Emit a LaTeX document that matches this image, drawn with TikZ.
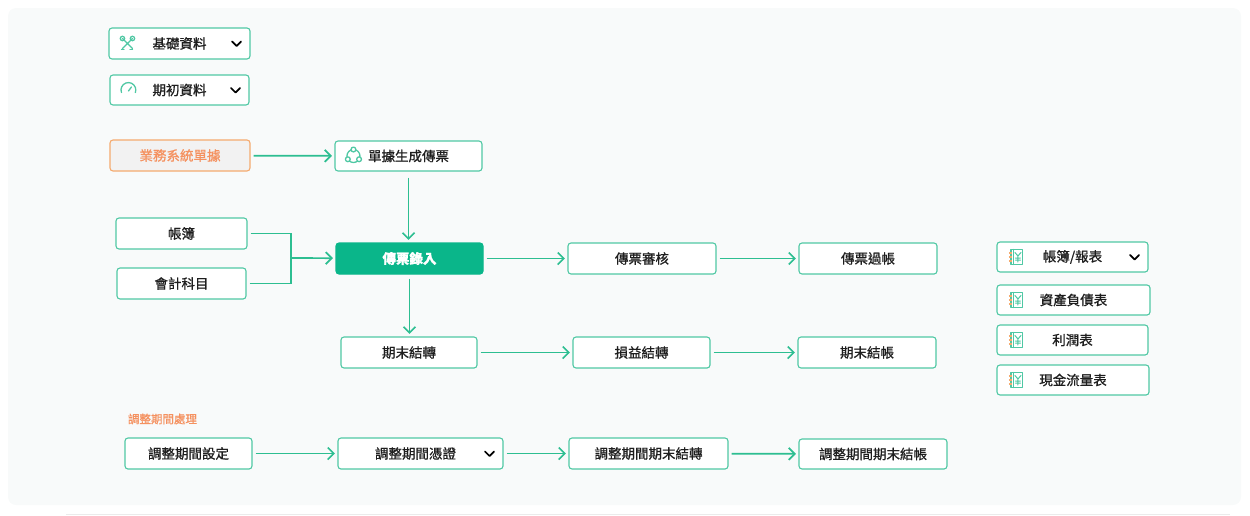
\documentclass[tikz,border=0pt]{standalone}
\usepackage{fontspec}
\setmainfont{Noto Sans CJK TC}[FakeBold=0.9]
\usetikzlibrary{arrows.meta}
\definecolor{panel}{RGB}{248,250,250}
\definecolor{boxgreen}{RGB}{80,200,164}
\definecolor{arrowgreen}{RGB}{45,190,145}
\definecolor{fillgreen}{RGB}{10,182,138}
\definecolor{boxorange}{RGB}{245,170,110}
\definecolor{textorange}{RGB}{245,145,95}
\definecolor{textdark}{RGB}{30,30,30}
\tikzset{
    every node/.style={align=center,font=\fontsize{13.5}{16}\selectfont,text=textdark,},
    stepbox/.style={draw=boxgreen,fill=white,rectangle,rounded corners=3pt,line width=1.1pt,inner sep=0pt,minimum height=31pt,},
    mainbox/.style={stepbox,draw=fillgreen,fill=fillgreen,text=white,font=\fontsize{13.5}{16}\selectfont\bfseries,},
    srcbox/.style={stepbox,draw=boxorange,fill=black!5,text=textorange,},
    sublabel/.style={font=\fontsize{11.5}{14}\selectfont,text=textorange,},
    flow/.style={draw=arrowgreen,line width=1.7pt,-{Straight Barb[length=6pt,width=12pt]},shorten >=2.5pt,shorten <=3pt,},
    link/.style={draw=arrowgreen,line width=1.7pt,shorten <=3pt,},
    icon/.style={draw=boxgreen,line width=1.3pt,line cap=round,line join=round,},
    chev/.style={draw=black,line width=1.7pt,line cap=round,line join=round,},
}
\newcommand{\chevron}[1]{\draw[chev] ([xshift=-14pt]#1.east) ++(-4.5,-2) -- ++(4.5,4.5) -- ++(4.5,-4.5);}
\newcommand{\bookicon}[1]{%
    \begin{scope}[shift={([xshift=20pt]#1.west)}]
        \draw[icon] (-5.5,-7.5) rectangle (6,7.5);
        \draw[icon] (-3,-7.5) -- (-3,7.5);
        \foreach \yy in {-4,0,4} \draw[draw=boxorange,line width=1.2pt] (-7.5,\yy) -- (-4.5,\yy);
        \draw[icon,line width=1pt] (-1.5,-4.5) -- (1.5,-1) -- (4.5,-4.5) (1.5,-1) -- (1.5,5) (-1,1) -- (4,1) (-1,3.2) -- (4,3.2);
    \end{scope}}

\begin{document}
\begin{tikzpicture}[x=1pt,y=-1pt]
    \useasboundingbox (0,0) rectangle (1250,515);
    \fill[panel,rounded corners=8pt] (8,8) rectangle (1241,505);
    \draw[black!8,line width=1pt] (66,514) -- (1230,514);

    % top menus
    \node[stepbox,minimum width=141pt] (jichu) at (179.5,43.5) {基礎資料};
    \node[stepbox,minimum width=139pt,minimum height=30pt] (qichu) at (179.5,90) {期初資料};
    \chevron{jichu}
    \chevron{qichu}
    \draw[icon] ([xshift=19pt]jichu.west) ++(-5,-5) -- ++(10,10) ++(0,-10) -- ++(-10,10);
    \draw[icon] ([xshift=19pt]jichu.west) ++(-5,-5) circle (2.2) ++(10,0) circle (2.2);
    \draw[icon] ([xshift=19pt]jichu.west) ++(-6,6) -- ++(2.5,0) ++(8.5,0) -- ++(-2.5,0);
    \draw[icon] ([xshift=19pt]qichu.west) ++(-7,2.5) arc (160:380:7.4);
    \draw[icon] ([xshift=19pt]qichu.west) ++(0,1) -- ++(3,-4);

    % voucher flow
    \node[srcbox,minimum width=140pt] (yewu) at (180,155.5) {業務系統單據};
    \node[stepbox,minimum width=147pt,minimum height=30pt] (shengcheng) at (408.5,156) {單據生成傳票};
    \draw[icon] ([xshift=19pt]shengcheng.west) circle (6.5);
    \foreach \ang in {90,210,330}
        \filldraw[icon,fill=white] ([xshift=19pt]shengcheng.west) ++(\ang+180:6.5) circle (2.4);

    \node[stepbox,minimum width=131pt] (zhangbu) at (181.5,233.5) {帳簿};
    \node[stepbox,minimum width=129pt] (kemu) at (181.5,283.5) {會計科目};
    \coordinate (merge) at (291,258);

    \node[mainbox,minimum width=147pt] (luru) at (409.5,258.5) {傳票錄入};
    \node[stepbox,minimum width=148pt] (shenhe) at (642,258.5) {傳票審核};
    \node[stepbox,minimum width=138pt] (guozhang) at (868,258.5) {傳票過帳};

    \node[stepbox,minimum width=136pt] (jiezhuan) at (409,352.5) {期末結轉};
    \node[stepbox,minimum width=137pt] (sunyi) at (641.5,352.5) {損益結轉};
    \node[stepbox,minimum width=138pt] (jiezhang) at (867,352.5) {期末結帳};

    \draw[flow] (yewu) to (shengcheng);
    \draw[flow,shorten <=6pt] (shengcheng.south) to (shengcheng.south |- luru.north);
    \draw[link] (zhangbu.east) -| (merge);
    \draw[link] (kemu.east) -| (merge);
    \draw[flow,shorten <=0pt] (merge) to (luru);
    \draw[flow] (luru) to (shenhe);
    \draw[flow] (shenhe) to (guozhang);
    \draw[flow,shorten <=4pt] (luru.south) to (luru.south |- jiezhuan.north);
    \draw[flow] (jiezhuan) to (sunyi);
    \draw[flow] (sunyi) to (jiezhang);

    % reports
    \node[stepbox,minimum width=151pt,minimum height=30pt] (baobiao) at (1072.5,257) {帳簿/報表};
    \node[stepbox,minimum width=153pt,minimum height=30pt] (zichan) at (1073.5,300) {資產負債表};
    \node[stepbox,minimum width=151pt,minimum height=30pt] (lirun) at (1072.5,340) {利潤表};
    \node[stepbox,minimum width=152pt,minimum height=30pt] (xianjin) at (1073,380) {現金流量表};
    \chevron{baobiao}
    \foreach \nn in {baobiao,zichan,lirun,xianjin} {\bookicon{\nn}}

    % adjustment period
    \node[sublabel] (tzlabel) at (162.5,419) {調整期間處理};
    \node[stepbox,minimum width=127pt] (tzsheding) at (188.5,453.5) {調整期間設定};
    \node[stepbox,minimum width=165pt] (tzpingzheng) at (420.5,453.5) {\hspace*{-10pt}調整期間憑證};
    \node[stepbox,minimum width=159pt] (tzjiezhuan) at (648.5,453.5) {調整期間期末結轉};
    \node[stepbox,minimum width=148pt,minimum height=30pt] (tzjiezhang) at (873,454) {調整期間期末結帳};
    \chevron{tzpingzheng}

    \draw[flow] (tzsheding) to (tzpingzheng);
    \draw[flow] (tzpingzheng) to (tzjiezhuan);
    \draw[flow] (tzjiezhuan) to (tzjiezhang);
\end{tikzpicture}
\end{document}
